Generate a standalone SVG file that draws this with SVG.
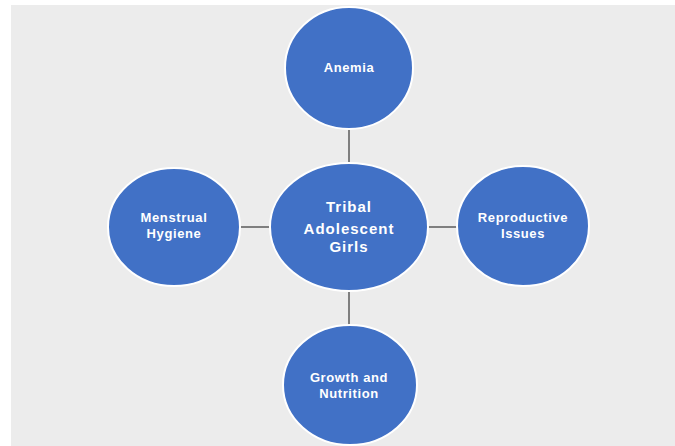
<svg xmlns="http://www.w3.org/2000/svg" width="675" height="446" viewBox="0 0 675 446">
  <style>
    .node { fill: #4171c6; stroke: #ffffff; stroke-width: 2; }
    .link { stroke: #7f7f7f; stroke-width: 2; fill: none; }
    .label { fill: #ffffff; font-family: "Liberation Sans", Arial, sans-serif; font-weight: bold; font-size: 13px; letter-spacing: 0.6px; text-anchor: middle; }
    .hub { font-size: 15px; letter-spacing: 1px; }
  </style>
  <!-- page -->
  <rect x="0" y="0" width="675" height="446" fill="#ffffff"/>
  <rect x="11" y="5" width="664" height="441" fill="#ececec"/>

  <!-- spokes -->
  <g id="connectors">
    <line class="link" x1="349" y1="128" x2="349" y2="164"/>
    <line class="link" x1="349" y1="290" x2="349" y2="326"/>
    <line class="link" x1="240" y1="227" x2="271" y2="227"/>
    <line class="link" x1="427" y1="227" x2="459" y2="227"/>
  </g>

  <g id="hub">
    <ellipse class="node" cx="349" cy="227" rx="79" ry="64"/>
    <text class="label hub" x="349" y="212">Tribal</text>
    <text class="label hub" x="349" y="234">Adolescent</text>
    <text class="label hub" x="349" y="252">Girls</text>
  </g>

  <g id="anemia">
    <ellipse class="node" cx="349" cy="68" rx="64" ry="61"/>
    <text class="label" x="349" y="72">Anemia</text>
  </g>

  <g id="menstrual-hygiene">
    <ellipse class="node" cx="174" cy="227" rx="66" ry="59"/>
    <text class="label" x="174" y="222">Menstrual</text>
    <text class="label" x="174" y="238">Hygiene</text>
  </g>

  <g id="reproductive-issues">
    <ellipse class="node" cx="523" cy="226" rx="66" ry="60"/>
    <text class="label" x="523" y="222">Reproductive</text>
    <text class="label" x="523" y="238">Issues</text>
  </g>

  <g id="growth-nutrition">
    <ellipse class="node" cx="350" cy="385" rx="67" ry="60"/>
    <text class="label" x="349" y="382">Growth and</text>
    <text class="label" x="349" y="398">Nutrition</text>
  </g>
</svg>
